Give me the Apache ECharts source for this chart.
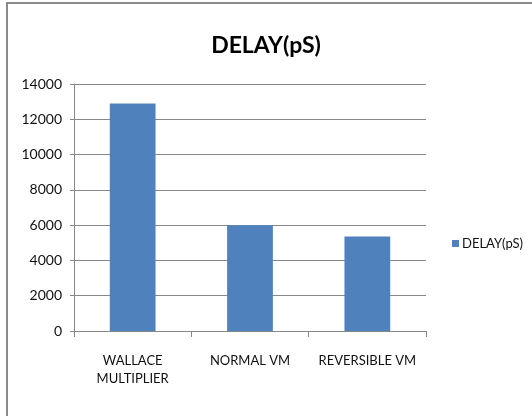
<!DOCTYPE html>
<html>
<head>
<meta charset="utf-8">
<script src="https://cdn.jsdelivr.net/npm/echarts@6/dist/echarts.min.js"></script>
<style>html,body{margin:0;padding:0;background:#fff}#c{width:532px;height:416px}</style>
</head>
<body>
<div id="c"></div>
<script>
const categories = ['WALLACE\nMULTIPLIER', 'NORMAL VM', 'REVERSIBLE VM'];
const delayValues = [12900, 6000, 5350];
const seriesName = 'DELAY(pS)';
const titleText = 'DELAY(pS)';

const chart = echarts.init(document.getElementById('c'), null, {renderer: 'canvas'});
const font = 'Lato, "Open Sans", sans-serif';
chart.setOption({
  animation: false,
  backgroundColor: '#fff',
  title: {
    text: titleText, left: 'center', top: 29,
    textStyle: {fontFamily: font, fontSize: 23, fontWeight: 'bold', color: '#000'}
  },
  legend: {
    data: [seriesName], left: 447, top: 232, orient: 'vertical',
    itemWidth: 7, itemHeight: 7, itemGap: 4,
    icon: 'rect',
    textStyle: {fontFamily: font, fontSize: 13, color: '#111', padding: [0,0,0,-2]}
  },
  grid: {left: 74, right: 106, top: 84, bottom: 85},
  xAxis: {
    type: 'category', data: categories,
    axisLine: {lineStyle: {color: '#888'}},
    axisTick: {show: true, length: 6, alignWithLabel: false, lineStyle: {color: '#888'}},
    axisLabel: {fontFamily: font, fontSize: 13, color: '#111', margin: 21, lineHeight: 18, interval: 0}
  },
  yAxis: {
    type: 'value', min: 0, max: 14000, interval: 2000,
    axisLine: {show: true, lineStyle: {color: '#888'}},
    axisTick: {show: true, length: 4, lineStyle: {color: '#888'}},
    splitLine: {lineStyle: {color: '#888'}},
    axisLabel: {fontFamily: font, fontSize: 14, color: '#111', margin: 12, formatter: v => String(v)}
  },
  series: [{
    name: seriesName, type: 'bar', data: delayValues,
    barWidth: '39%',
    itemStyle: {color: '#4f81bd'}
  }],
  graphic: [
    {type: 'line', shape: {x1: 6, y1: 3, x2: 532, y2: 3}, style: {stroke: '#8a8a8a', lineWidth: 2}},
    {type: 'line', shape: {x1: 7, y1: 2, x2: 7, y2: 416}, style: {stroke: '#8a8a8a', lineWidth: 2}}
  ]
});
</script>
</body>
</html>
